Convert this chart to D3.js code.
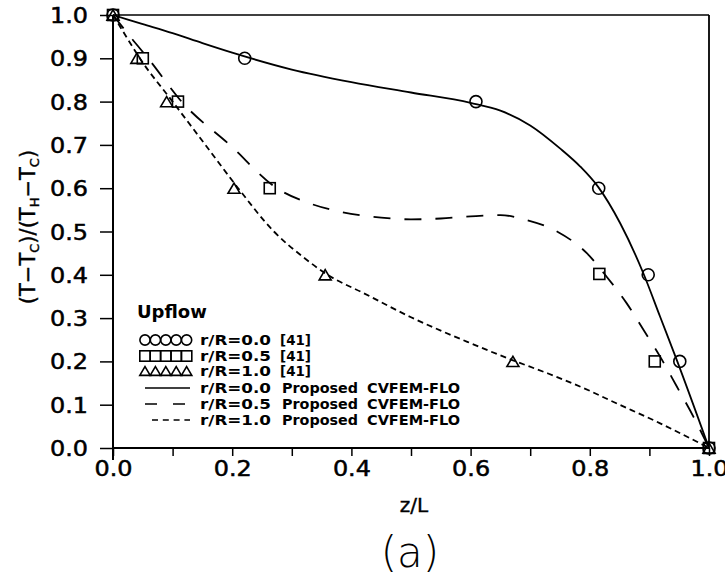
<!DOCTYPE html>
<html><head><meta charset="utf-8">
<script src="https://cdn.jsdelivr.net/npm/d3@7"></script>
<style>body{margin:0;background:#fff}svg{display:block}</style>
</head><body>
<svg id="c" width="725" height="576"></svg>
<script>
// ---- data ----
const xTicks = [0, 0.1, 0.2, 0.3, 0.4, 0.5, 0.6, 0.7, 0.8, 0.9, 1.0];
const xTickLabels = ["0.0", "", "0.2", "", "0.4", "", "0.6", "", "0.8", "", "1.0"];
const yTicks = [0, 0.1, 0.2, 0.3, 0.4, 0.5, 0.6, 0.7, 0.8, 0.9, 1.0];
const yTickLabels = ["0.0","0.1","0.2","0.3","0.4","0.5","0.6","0.7","0.8","0.9","1.0"];

// experimental [41]
const expR00 = [[0,1.0],[0.221,0.9],[0.609,0.8],[0.815,0.6],[0.898,0.4],[0.951,0.2],[1.0,0.0]];
const expR05 = [[0,1.0],[0.050,0.9],[0.109,0.8],[0.263,0.6],[0.816,0.402],[0.909,0.2],[1.0,0.0]];
const expR10 = [[0,1.0],[0.040,0.9],[0.090,0.8],[0.203,0.6],[0.356,0.4],[0.671,0.2],[1.0,0.0]];

// Proposed CVFEM-FLO
const simR00 = [[0,1],[0.05,0.979],[0.1,0.958],[0.15,0.935],[0.2,0.913],[0.3,0.874],[0.4,0.845],[0.5,0.821],[0.6,0.797],[0.65,0.779],[0.7,0.745],[0.75,0.692],[0.784,0.65],[0.814,0.603],[0.851,0.519],[0.89,0.403],[0.918,0.303],[0.946,0.203],[1.0,0.0]];
const simR05 = [[0,1],[0.03,0.948],[0.06,0.898],[0.115,0.8],[0.196,0.7],[0.275,0.6],[0.33,0.565],[0.38,0.546],[0.45,0.532],[0.5,0.528],[0.55,0.53],[0.6,0.535],[0.65,0.538],[0.69,0.528],[0.745,0.5],[0.795,0.45],[0.828,0.396],[0.862,0.334],[0.89,0.273],[0.918,0.211],[0.946,0.142],[0.974,0.072],[1.0,0]];
const simR10 = [[0,1],[0.02,0.955],[0.045,0.9],[0.1,0.8],[0.155,0.7],[0.21,0.6],[0.27,0.5],[0.32,0.44],[0.36,0.4],[0.42,0.358],[0.5,0.302],[0.6,0.242],[0.67,0.203],[0.73,0.172],[0.8,0.132],[0.834,0.11],[0.918,0.057],[1,0]];

const legendTitle = "Upflow";
const legendLabels = ["r/R=0.0","r/R=0.5","r/R=1.0","r/R=0.0","r/R=0.5","r/R=1.0"];
const legendRefs = ["[41]","[41]","[41]","Proposed","Proposed","Proposed"];
const legendModel = ["","","","CVFEM-FLO","CVFEM-FLO","CVFEM-FLO"];

// ---- drawing ----
const svg = d3.select("#c");
const L = 113, R = 709, T = 15, B = 448;
const x = d3.scaleLinear().domain([0,1]).range([L,R]);
const y = d3.scaleLinear().domain([0,1]).range([B,T]);
const FONT = "'DejaVu Sans', sans-serif";

svg.append("rect").attr("width",725).attr("height",576).attr("fill","#fff");

// frame
svg.append("line").attr("x1",L).attr("x2",R).attr("y1",T).attr("y2",T).attr("stroke","#000").attr("stroke-width",1.5);
svg.append("line").attr("x1",R).attr("x2",R).attr("y1",T).attr("y2",B).attr("stroke","#000").attr("stroke-width",1.8);

// axes
const xAxis = d3.axisBottom(x).tickValues(xTicks).tickSize(8).tickFormat((d,i)=>xTickLabels[i]);
const gx = svg.append("g").attr("transform",`translate(0,${B})`).call(xAxis);
gx.select(".domain").attr("stroke-width",2).attr("d",`M${L},0H${R}`);
gx.selectAll(".tick line").attr("stroke-width",1.5);
gx.selectAll(".tick text").attr("font-family",FONT).attr("font-size",21).attr("fill","#000")
  .attr("stroke","#000").attr("stroke-width",0.5).attr("dy","0.9em").attr("y",9)
  .attr("textLength",d=>xTickLabels[xTicks.indexOf(d)]?38:null).attr("lengthAdjust","spacingAndGlyphs");

const yAxis = d3.axisLeft(y).tickValues(yTicks).tickSize(13).tickPadding(12).tickFormat((d,i)=>yTickLabels[i]);
const gy = svg.append("g").attr("transform",`translate(${L},0)`).call(yAxis);
gy.select(".domain").attr("stroke-width",2).attr("d",`M0,${T}V${B+12}`);
gy.selectAll(".tick line").attr("stroke-width",1.5);
gy.selectAll(".tick text").attr("font-family",FONT).attr("font-size",21).attr("fill","#000")
  .attr("stroke","#000").attr("stroke-width",0.5).attr("dy","0.36em")
  .attr("textLength",38).attr("lengthAdjust","spacingAndGlyphs");

// curves
const line = d3.line().x(d=>x(d[0])).y(d=>y(d[1])).curve(d3.curveMonotoneX);
svg.append("path").datum(simR00).attr("d",line).attr("fill","none").attr("stroke","#000").attr("stroke-width",1.8);
svg.append("path").datum(simR05).attr("d",line).attr("fill","none").attr("stroke","#000").attr("stroke-width",1.8).attr("stroke-dasharray","17,14");
svg.append("path").datum(simR10).attr("d",line).attr("fill","none").attr("stroke","#000").attr("stroke-width",1.8).attr("stroke-dasharray","6,4");

// markers
function circle(g,cx,cy,r){g.append("circle").attr("cx",cx).attr("cy",cy).attr("r",r).attr("fill","none").attr("stroke","#000").attr("stroke-width",1.6);}
function square(g,cx,cy,s){g.append("rect").attr("x",cx-s/2).attr("y",cy-s/2).attr("width",s).attr("height",s).attr("fill","none").attr("stroke","#000").attr("stroke-width",1.6);}
function tri(g,cx,cy,s){const h=s*0.85;g.append("path").attr("d",`M${cx-s/2},${cy+h/2}L${cx+s/2},${cy+h/2}L${cx},${cy-h/2}Z`).attr("fill","none").attr("stroke","#000").attr("stroke-width",1.6);}
const gm = svg.append("g");
expR00.forEach(d=>circle(gm,x(d[0]),y(d[1]),6));
expR05.forEach(d=>square(gm,x(d[0]),y(d[1]),11));
expR10.forEach(d=>tri(gm,x(d[0]),y(d[1]),12));

// legend
const lg = svg.append("g");
lg.append("text").attr("x",137).attr("y",318).text(legendTitle).attr("font-family",FONT).attr("font-size",18).attr("font-weight","bold");
const rowY = [340,356,371,388,404,420];
for(let i=0;i<5;i++){circle(lg,145+i*10.4,rowY[0],5.1);}
for(let i=0;i<5;i++){square(lg,145+i*10.4,rowY[1],10.4);}
for(let i=0;i<5;i++){tri(lg,145+i*10.4,rowY[2],10.4);}
lg.append("line").attr("x1",145).attr("x2",190).attr("y1",rowY[3]).attr("y2",rowY[3]).attr("stroke","#000").attr("stroke-width",1.5);
lg.append("line").attr("x1",145).attr("x2",190).attr("y1",rowY[4]).attr("y2",rowY[4]).attr("stroke","#000").attr("stroke-width",1.5).attr("stroke-dasharray","12,16");
lg.append("line").attr("x1",152).attr("x2",190).attr("y1",rowY[5]).attr("y2",rowY[5]).attr("stroke","#000").attr("stroke-width",1.5).attr("stroke-dasharray","6,4.8");
const tf = (sel)=>sel.attr("font-family",FONT).attr("font-size",14).attr("font-weight","bold").attr("fill","#000");
legendLabels.forEach((t,i)=>{
  const by = rowY[i]+5;
  tf(lg.append("text").attr("x",200).attr("y",by).text(t).attr("textLength",71).attr("lengthAdjust","spacingAndGlyphs"));
  tf(lg.append("text").attr("x",i<3?280:282).attr("y",by).text(legendRefs[i]).attr("textLength",i<3?31:76).attr("lengthAdjust","spacingAndGlyphs"));
  if(legendModel[i]) tf(lg.append("text").attr("x",367).attr("y",by).text(legendModel[i]).attr("textLength",93).attr("lengthAdjust","spacingAndGlyphs"));
});

// axis titles
svg.append("text").attr("x",414).attr("y",512).attr("text-anchor","middle").text("z/L")
  .attr("font-family",FONT).attr("font-size",20).attr("stroke","#000").attr("stroke-width",0.4);
const yt = svg.append("text").attr("transform","translate(35,227) rotate(-90)").attr("text-anchor","middle")
  .attr("font-family",FONT).attr("font-size",21).attr("stroke","#000").attr("stroke-width",0.4);
yt.append("tspan").text("(T\u2212T");
yt.append("tspan").text("C").attr("font-size",13).attr("dy",4);
yt.append("tspan").text(")/(T").attr("dy",-4);
yt.append("tspan").text("H").attr("font-size",13).attr("dy",4);
yt.append("tspan").text("\u2212T").attr("dy",-4);
yt.append("tspan").text("C").attr("font-size",13).attr("dy",4);
yt.append("tspan").text(")").attr("dy",-4);

svg.append("text").attr("x",410).attr("y",567).attr("text-anchor","middle").text("(a)")
  .attr("font-family","'DejaVu Sans', sans-serif").attr("font-size",42).attr("font-weight",200);
</script>
</body></html>
